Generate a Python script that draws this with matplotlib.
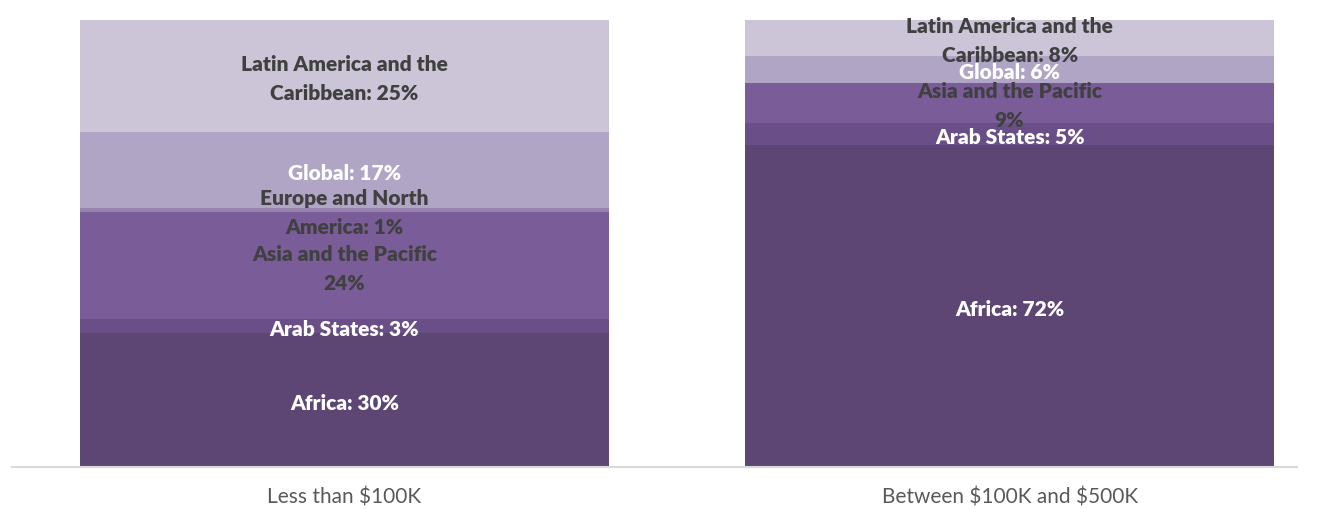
import numpy as np
import matplotlib.pyplot as plt

# share of grants by region, per grant size bracket (percent)
categories = ['Less than \\$100K', 'Between \\$100K and \\$500K']
regions = ['Africa', 'Arab States', 'Asia and the Pacific',
           'Europe and North America', 'Global', 'Latin America and the Caribbean']
africa = [30, 72]
arab_states = [3, 5]
asia_pacific = [24, 9]
europe_na = [1, 0]
global_ = [17, 6]
latin_america = [25, 8]

values = [africa, arab_states, asia_pacific, europe_na, global_, latin_america]
colors = ['#5D4674', '#6A4E88', '#7A5D98', '#9882AE', '#B0A5C4', '#CCC5D8']
text_colors = ['white', 'white', '#404040', '#404040', 'white', '#404040']

# label text for each segment, line breaks as they wrap inside the bars
label_text = {
    'Africa': ['Africa: {}%', 'Africa: {}%'],
    'Arab States': ['Arab States: {}%', 'Arab States: {}%'],
    'Asia and the Pacific': ['Asia and the Pacific\n{}%', 'Asia and the Pacific\n{}%'],
    'Europe and North America': ['Europe and North\nAmerica: {}%', None],
    'Global': ['Global: {}%', 'Global: {}%'],
    'Latin America and the Caribbean': ['Latin America and the\nCaribbean: {}%',
                                        'Latin America and the\nCaribbean: {}%'],
}

fig = plt.figure(figsize=(13.26, 5.09), dpi=100)
ax = fig.add_axes([12 / 1326, 42 / 509, 1285 / 1326, 447 / 509])

x = np.arange(len(categories))
bottom = np.zeros(len(categories))
for reg, vals, col, tcol in zip(regions, values, colors, text_colors):
    vals = np.array(vals, dtype=float)
    ax.bar(x, vals, width=0.795, bottom=bottom, color=col, edgecolor='none')
    for i, v in enumerate(vals):
        fmt = label_text[reg][i]
        if fmt is None or v == 0:
            continue
        ax.annotate(fmt.format(int(v)), (x[i], bottom[i] + v / 2),
                    xytext=(0, -2.5), textcoords='offset points',
                    ha='center', va='center', color=tcol, fontsize=15,
                    fontweight='heavy', family='Lato', linespacing=1.62)
    bottom += vals

ax.set_xlim(-0.5, 1.432)
ax.set_ylim(0, 100)
ax.set_yticks([])
ax.set_xticks(x)
ax.set_xticklabels(categories, fontsize=15, color='#595959', family='Lato')
ax.tick_params(axis='x', length=0, pad=15)
for s in ['top', 'right', 'left']:
    ax.spines[s].set_visible(False)
ax.spines['bottom'].set_color('#D9D9D9')
ax.spines['bottom'].set_linewidth(1.5)

plt.savefig('out.png', dpi=100)
